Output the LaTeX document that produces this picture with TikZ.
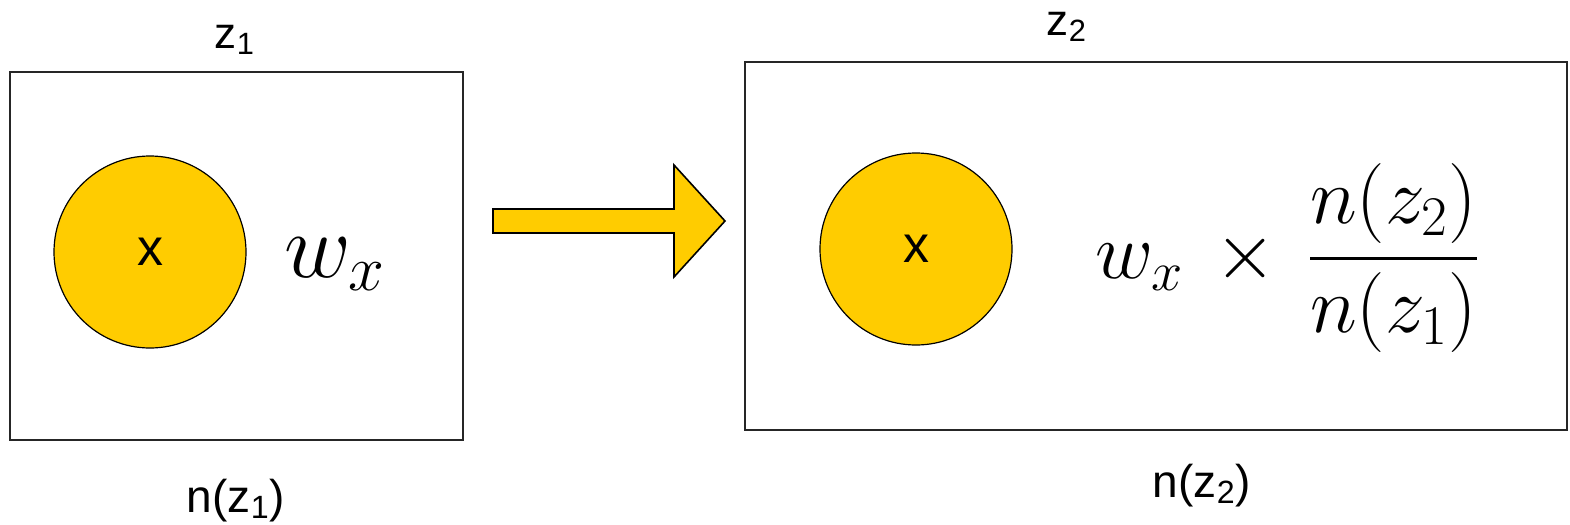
\RequirePackage{fix-cm}
\documentclass[tikz,border=0pt]{standalone}
\usepackage{amsmath}
\usepackage[no-math]{fontspec}
\setmainfont{Liberation Sans}
\usetikzlibrary{positioning}
\definecolor{gold}{HTML}{FFCC00}

\begin{document}
\begin{tikzpicture}[
    x=0.5pt, y=-0.5pt,
    frame/.style={rectangle, draw=black!85, line width=0.8pt, inner sep=0pt},
    dot/.style={circle, draw, fill=gold, line width=0.6pt, minimum size=96pt, inner sep=0pt, font=\fontsize{26}{30}\selectfont},
    lbl/.style={inner sep=0pt, anchor=base, font=\fontsize{22}{26}\selectfont},
    cnt/.style={inner sep=0pt, anchor=base, font=\fontsize{23}{27}\selectfont},
    fat/.style={draw, fill=gold, line width=0.8pt, line join=miter}
]
\useasboundingbox (0,0) rectangle (1570,525);
% left bin
\node[frame, minimum width=226.5pt, minimum height=184pt] (lbox) at (236.5,256) {};
\node[dot] (lx) at (150,252) {x};
\node[inner sep=0pt, anchor=base, font=\fontsize{46}{50}\selectfont] (lw) at (335,277) {$w_x$};
\node[lbl] (lz) at (235,48) {z\textsubscript{1}};
\node[cnt] (ln) at (236,512) {n(z\textsubscript{1})};
% block arrow
\draw[fat] (493,209) -- (674,209) -- (674,165) -- (725,221) -- (674,277) -- (674,233) -- (493,233) -- cycle;
% right bin
\node[frame, minimum width=411pt, minimum height=184pt] (rbox) at (1156,246) {};
\node[dot] (rx) at (916,249) {x};
\node[inner sep=0pt, anchor=base, font=\fontsize{40}{44}\selectfont] (rw) at (1287,278)
    {$w_x \,\times\, \genfrac{}{}{1.5pt}{0}{n(z_2)}{n(z_1)}$};
\node[lbl] (rz) at (1067,35) {z\textsubscript{2}};
\node[cnt] (rn) at (1202,497) {n(z\textsubscript{2})};
\end{tikzpicture}
\end{document}
